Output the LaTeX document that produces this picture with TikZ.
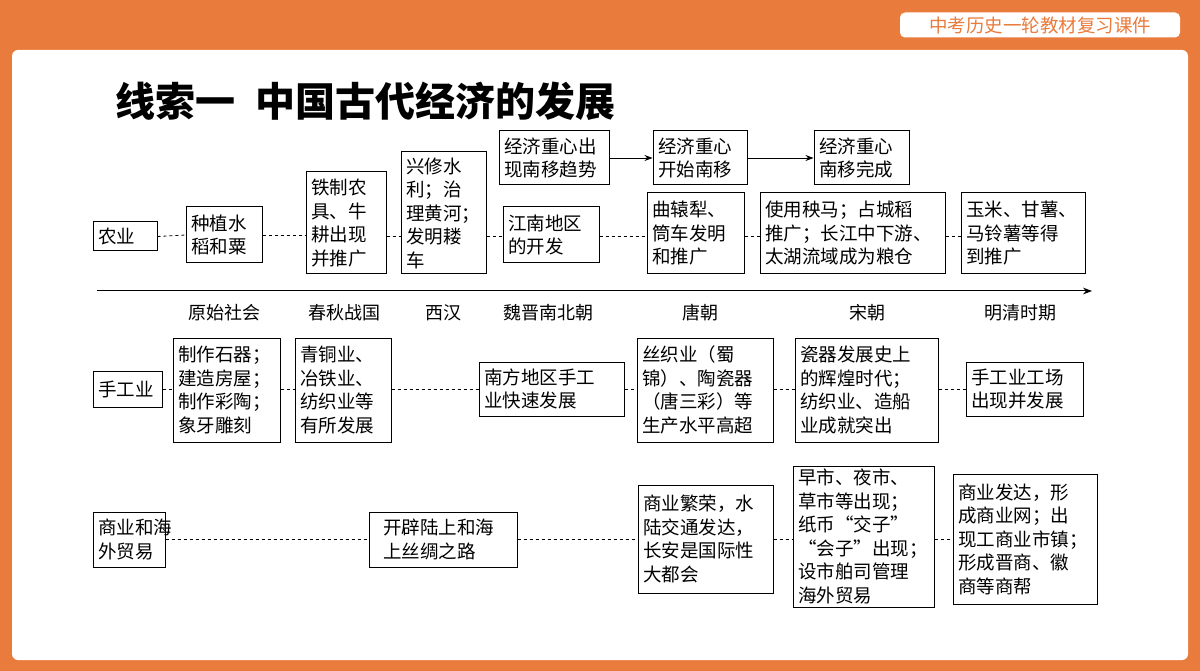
\documentclass[tikz,border=0pt]{standalone}
\usepackage{fontspec}
\setmainfont{Noto Sans CJK SC}
\usetikzlibrary{arrows.meta}
\definecolor{org}{HTML}{E97B3C}
\newcommand{\bx}[6]{\node[box,minimum width={(#4-#2)*1pt},minimum height={(#5-#3)*1pt},text width={(#4-#2-10)*1pt}] (#1) at ({(#2+#4)/2},{(#3+#5)/2}) {#6};}
\begin{document}
\begin{tikzpicture}[x=1pt,y=-1pt,
 box/.style={draw,line width=1pt,inner sep=0pt,align=left,font=\fontsize{18.5}{23.5}\selectfont},
 dl/.style={dashed,line width=0.8pt},
 lab/.style={font=\fontsize{18}{20}\selectfont}]
\fill[org] (0,0) rectangle (1200,671);
\useasboundingbox (0,0) rectangle (1200,671);
\fill[white,rounded corners=6pt] (12,50) rectangle (1188,660);
\node[fill=white,rounded corners=5pt,minimum width=280pt,minimum height=25pt,text=org,font=\fontsize{18.5}{20}\selectfont] (hdr) at (1040,25) {中考历史一轮教材复习课件};
\node[anchor=west,font=\fontsize{40}{44}\selectfont\bfseries] (title) at (112,101) {线索一\hspace{0.5em}中国古代经济的发展};
% agriculture
\bx{ny}{93}{222}{157}{251}{\centering 农业}
\bx{a1}{186}{207}{262}{263}{种植水\\稻和粟}
\bx{a2}{306}{172}{386}{274}{铁制农\\具、牛\\耕出现\\并推广}
\bx{a3}{401}{152}{486}{274}{兴修水\\利；治\\理黄河；\\发明耧\\车}
\bx{a4}{503}{207}{599}{263}{江南地区\\的开发}
\bx{z1}{499}{131}{609}{185}{经济重心出\\现南移趋势}
\bx{z2}{653}{131}{747}{185}{经济重心\\开始南移}
\bx{z3}{814}{131}{909}{185}{经济重心\\南移完成}
\bx{a5}{647}{193}{744}{274}{曲辕犁、\\筒车发明\\和推广}
\bx{a6}{760}{193}{945}{274}{使用秧马；占城稻\\推广；长江中下游、\\太湖流域成为粮仓}
\bx{a7}{961}{193}{1085}{274}{玉米、甘薯、\\马铃薯等得\\到推广}
\draw[dl] (ny.east) -- (a1.west);
\draw[dl] (a1.east) -- (a1.east-|a2.west);
\draw[dl] (a2.east|-ny) -- (a3.west|-ny);
\draw[dl] (a3.east|-ny) -- (a4.west|-ny);
\draw[dl] (a4.east|-ny) -- (a5.west|-ny);
\draw[dl] (a5.east|-ny) -- (a6.west|-ny);
\draw[dl] (a6.east|-ny) -- (a7.west|-ny);
\draw[-{Stealth[length=8pt]},line width=0.8pt] (z1) -- (z2);
\draw[-{Stealth[length=8pt]},line width=0.8pt] (z2) -- (z3);
% timeline
\coordinate (t0) at (97,291); \coordinate (t1) at (1092,291);
\draw[-{Stealth[length=9pt]},line width=1pt] (t0) -- (t1);
\node[lab] (p1) at (224,313) {原始社会};
\node[lab] (p2) at (344,313) {春秋战国};
\node[lab] (p3) at (443,313) {西汉};
\node[lab] (p4) at (548,313) {魏晋南北朝};
\node[lab] (p5) at (700,313) {唐朝};
\node[lab] (p6) at (867,313) {宋朝};
\node[lab] (p7) at (1020,313) {明清时期};
% handicraft
\bx{sg}{93}{371}{162}{407}{\centering 手工业}
\bx{h1}{173}{338}{280}{442}{制作石器；\\建造房屋；\\制作彩陶；\\象牙雕刻}
\bx{h2}{295}{338}{391}{442}{青铜业、\\冶铁业、\\纺织业等\\有所发展}
\bx{h3}{479}{362}{624}{416}{南方地区手工\\业快速发展}
\bx{h4}{637}{338}{773}{442}{丝织业（蜀\\锦）、陶瓷器\\（唐三彩）等\\生产水平高超}
\bx{h5}{795}{338}{938}{442}{瓷器发展史上\\的辉煌时代；\\纺织业、造船\\业成就突出}
\bx{h6}{966}{362}{1083}{416}{手工业工场\\出现并发展}
\draw[dl] (sg.east) -- (sg.east-|h1.west);
\draw[dl] (h1.east|-sg) -- (h2.west|-sg);
\draw[dl] (h2.east|-sg) -- (h3.west|-sg);
\draw[dl] (h3.east|-sg) -- (h4.west|-sg);
\draw[dl] (h4.east|-sg) -- (h5.west|-sg);
\draw[dl] (h5.east|-sg) -- (h6.west|-sg);
% commerce
\bx{sy}{93}{512}{165}{567}{商业和海\\外贸易}
\bx{c1}{369}{512}{517}{567}{\hspace{0.5em}开辟陆上和海\\\hspace{0.5em}上丝绸之路}
\bx{c2}{638}{485}{773}{593}{商业繁荣，水\\陆交通发达，\\长安是国际性\\大都会}
\bx{c3}{793}{466}{934}{607}{早市、夜市、\\草市等出现；\\纸币“交子”\\“会子”出现；\\设市舶司管理\\海外贸易}
\bx{c4}{953}{474}{1097}{604}{商业发达，形\\成商业网；出\\现工商业市镇；\\形成晋商、徽\\商等商帮}
\draw[dl] (sy.east) -- (c1.west);
\draw[dl] (c1.east) -- (c1.east-|c2.west);
\draw[dl] (c2.east|-sy) -- (c3.west|-sy);
\draw[dl] (c3.east|-sy) -- (c4.west|-sy);
\end{tikzpicture}
\end{document}
